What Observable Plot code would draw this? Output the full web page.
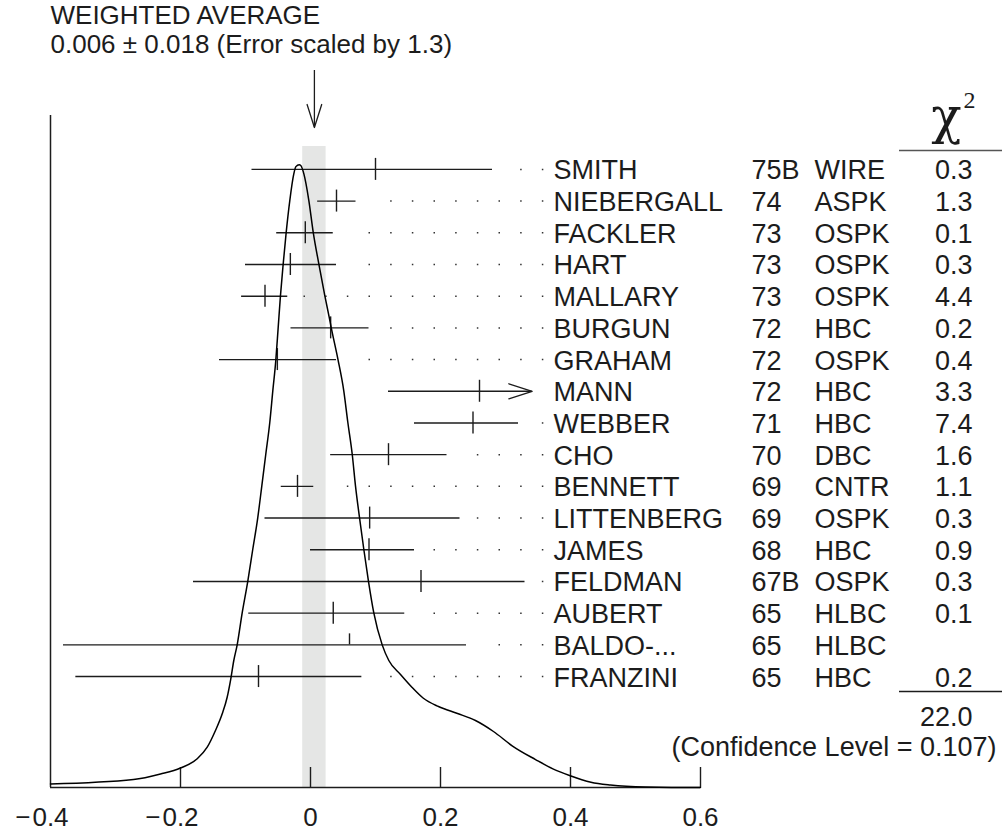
<!DOCTYPE html>
<html>
<head>
<meta charset="utf-8">
<script src="https://cdn.jsdelivr.net/npm/d3@7"></script>
<script src="https://cdn.jsdelivr.net/npm/@observablehq/plot@0.6"></script>
<style>
  html, body { margin: 0; padding: 0; background: #fff; }
  #chart svg { display: block; }
</style>
</head>
<body>
<div id="chart"></div>
<script>
// ---- data ----
const names = ["SMITH","NIEBERGALL","FACKLER","HART","MALLARY","BURGUN","GRAHAM","MANN","WEBBER","CHO","BENNETT","LITTENBERG","JAMES","FELDMAN","AUBERT","BALDO-...","FRANZINI"];
const years = ["75B","74","73","73","73","72","72","72","71","70","69","69","68","67B","65","65","65"];
const detectors = ["WIRE","ASPK","OSPK","OSPK","OSPK","HBC","OSPK","HBC","HBC","DBC","CNTR","OSPK","HBC","OSPK","HLBC","HLBC","HBC"];
const values = [0.10, 0.040, -0.008, -0.031, -0.070, 0.031, -0.051, 0.26, 0.25, 0.12, -0.020, 0.091, 0.09, 0.17, 0.035, 0.06, -0.080];
const lows   = [-0.09, 0.011, -0.052, -0.10, -0.106, -0.030, -0.14, 0.12, 0.16, 0.031, -0.045, -0.07, 0.0, -0.18, -0.095, -0.38, -0.361];
const highs  = [0.28, 0.070, 0.035, 0.04, -0.035, 0.090, 0.04, 0.40, 0.32, 0.21, 0.005, 0.23, 0.16, 0.33, 0.145, 0.24, 0.079];
const chi2   = ["0.3","1.3","0.1","0.3","4.4","0.2","0.4","3.3","7.4","1.6","1.1","0.3","0.9","0.3","0.1","","0.2"];
const chi2Total = "22.0";
const confidenceLevel = 0.107;
const average = 0.006;
const averageError = 0.018;
const errorScale = 1.3;

// ideogram curve (x, height relative to the peak)
const curveX = [-0.4,-0.2723,-0.2308,-0.2,-0.1743,-0.1589,-0.1462,-0.1358,-0.1282,-0.1231,-0.118,-0.1128,-0.1051,-0.0965,-0.0888,-0.0811,-0.0749,-0.0688,-0.0626,-0.058,-0.0534,-0.0497,-0.0462,-0.042,-0.0374,-0.0318,-0.0257,-0.0225,-0.0174,-0.0148,-0.0102,-0.0026,0.0042,0.0128,0.022,0.0288,0.0318,0.0423,0.0512,0.0574,0.0642,0.0692,0.0754,0.082,0.0892,0.0974,0.1103,0.1205,0.1385,0.156,0.1732,0.1969,0.2262,0.2538,0.2815,0.3108,0.3462,0.3729,0.3985,0.4315,0.4615,0.5154,0.5954,0.6];
const curveD = [0.0056,0.0128,0.0217,0.0313,0.0461,0.0647,0.0915,0.1183,0.1449,0.1717,0.2039,0.229,0.2804,0.3311,0.3825,0.4334,0.4843,0.535,0.5864,0.6368,0.6854,0.7388,0.7897,0.8406,0.8913,0.9427,0.9851,0.9968,1.0,0.9984,0.9851,0.9427,0.8913,0.8406,0.7897,0.7549,0.7388,0.687,0.6368,0.5864,0.535,0.4843,0.4334,0.3825,0.3311,0.2804,0.229,0.2039,0.1814,0.161,0.1437,0.13,0.1188,0.1075,0.0899,0.0666,0.0449,0.03,0.0193,0.0085,0.004,0.0008,0,0];

const xTicks = [-0.4, -0.2, 0, 0.2, 0.4, 0.6];

// ---- layout ----
const W = 1003, H = 830;
const mL = 50, mR = 303, mT = 115, mB = 43;
const xDomain = [-0.4, 0.6];
const yTop = 21.2;                       // frame height in row units
const pxY = p => p * yTop / (H - mT - mB);
const pxX = p => p * (xDomain[1] - xDomain[0]) / (W - mL - mR);
const firstRow = 19.5;                   // row position of the first entry
const peakHeight = 19.65;                // ideogram peak height in row units
const barLimit = 0.341;                  // bars are cut (with an arrow) here
const dotStart = -0.01, dotStep = 1 / 30, dotLast = 11, dotGap = 0.0223;

const ink = "#1c1c1c";
const font = "'Liberation Sans', Arial, Helvetica, sans-serif";
const serif = "'DejaVu Serif', 'Liberation Serif', 'Times New Roman', serif";

const rows = names.map((name, i) => ({
  name, year: years[i], det: detectors[i],
  v: values[i], lo: lows[i], hi: highs[i], chi: chi2[i],
  y: firstRow - i
}));

const dots = rows.filter(r => r.hi <= barLimit).map(r => {
  const k = Math.ceil((r.hi + dotGap - dotStart) / dotStep - 1e-9);
  return {y: r.y, x1: dotStart + k * dotStep, x2: dotStart + dotLast * dotStep + 0.003};
}).filter(d => d.x1 < d.x2);

const curve = curveX.map((x, i) => ({x, h: curveD[i] * peakHeight}));

const tickHalf = pxY(11);

// arrowheads (V shapes)
const heads = [];
const yTip = pxY(660), yTail = pxY(717);
heads.push({k: "avg", x: average - pxX(7.3), y: yTip + pxY(23)});
heads.push({k: "avg", x: average, y: yTip});
heads.push({k: "avg", x: average + pxX(7.3), y: yTip + pxY(23)});
rows.filter(r => r.hi > barLimit).forEach(r => {
  heads.push({k: r.name, x: barLimit - pxX(23.3), y: r.y + pxY(7.5)});
  heads.push({k: r.name, x: barLimit, y: r.y});
  heads.push({k: r.name, x: barLimit - pxX(23.3), y: r.y - pxY(7.5)});
});

const header1 = "WEIGHTED AVERAGE";
const header2 = `${average} ± ${averageError} (Error scaled by ${errorScale})`;

const txt = {fontSize: 27, fill: ink, lineAnchor: "bottom"};

const chart = Plot.plot({
  width: W, height: H,
  marginLeft: mL, marginRight: mR, marginTop: mT, marginBottom: mB,
  style: {fontFamily: font, background: "#fff", color: ink},
  x: {domain: xDomain, axis: null},
  y: {domain: [0, yTop], axis: null},
  marks: [
    // weighted average band
    Plot.rect([average], {x1: d => d - averageError, x2: d => d + averageError, insetTop: 31, fill: "#e5e6e5"}),
    // frame: left line, baseline, ticks
    Plot.ruleX([xDomain[0]], {stroke: ink, strokeWidth: 1.5}),
    Plot.ruleY([0], {stroke: ink, strokeWidth: 1.6}),
    Plot.ruleX(xTicks.filter(t => t > xDomain[0]), {insetTop: H - mT - mB - 20, stroke: ink, strokeWidth: 1.4}),
    // tick labels (numbers centred, minus sign hung to the left)
    Plot.text(xTicks, {x: d => d, text: d => String(Math.abs(d)), frameAnchor: "bottom", dy: 38, lineAnchor: "bottom", fontSize: 26, fill: ink}),
    Plot.text(xTicks.filter(d => d < 0), {x: d => d, text: () => "\u2212", frameAnchor: "bottom", dy: 38, dx: -20, textAnchor: "end", lineAnchor: "bottom", fontSize: 26, fill: ink}),
    // dotted leaders
    Plot.ruleY(dots, {y: "y", x1: "x1", x2: "x2", stroke: "#333", strokeWidth: 1.5, strokeDasharray: `1.5 ${(W - mL - mR) * dotStep - 1.5}`}),
    // error bars
    Plot.ruleY(rows, {y: "y", x1: "lo", x2: d => Math.min(d.hi, barLimit), stroke: ink, strokeWidth: 1.4}),
    Plot.ruleX(rows, {x: "v", y1: d => d.chi === "" ? d.y : d.y - tickHalf, y2: d => d.y + tickHalf, stroke: ink, strokeWidth: 1.4}),
    // ideogram
    Plot.line(curve, {x: "x", y: "h", curve: "monotone-x", stroke: "#000", strokeWidth: 1.5}),
    // arrow to the average, and arrowheads
    Plot.ruleX([average], {y1: yTip, y2: yTail, stroke: ink, strokeWidth: 1.3}),
    Plot.line(heads, {x: "x", y: "y", z: "k", stroke: ink, strokeWidth: 1.3}),
    // table columns
    Plot.text(rows, {...txt, y: "y", text: "name", frameAnchor: "left", dx: 503, dy: 10, textAnchor: "start"}),
    Plot.text(rows, {...txt, y: "y", text: "year", frameAnchor: "left", dx: 701, dy: 10, textAnchor: "start"}),
    Plot.text(rows, {...txt, y: "y", text: "det", frameAnchor: "left", dx: 764, dy: 10, textAnchor: "start"}),
    Plot.text(rows, {...txt, y: "y", text: "chi", frameAnchor: "left", dx: 922, dy: 10, textAnchor: "end"}),
    // chi-square header and rules
    Plot.text(["\u03c7"], {text: d => d, frameAnchor: "top-left", dx: 896, dy: 17, textAnchor: "middle", lineAnchor: "bottom", fontFamily: serif, fontSize: 50, fill: ink}),
    Plot.text(["2"], {text: d => d, frameAnchor: "top-left", dx: 913, dy: -8, textAnchor: "start", lineAnchor: "bottom", fontFamily: "'Liberation Serif', serif", fontSize: 24, fill: ink}),
    Plot.ruleY([0], {dy: -637, insetLeft: 849, insetRight: -302, stroke: "#555", strokeWidth: 1.5}),
    Plot.ruleY([0], {dy: -96, insetLeft: 849, insetRight: -302, stroke: ink, strokeWidth: 1.5}),
    Plot.text([chi2Total], {...txt, text: d => d, frameAnchor: "bottom-left", dx: 922, dy: -62, textAnchor: "end"}),
    Plot.text([`(Confidence Level = ${confidenceLevel})`], {...txt, text: d => d, frameAnchor: "bottom-left", dx: 946, dy: -32, textAnchor: "end"}),
    // header
    Plot.text([header1], {...txt, fontSize: 26, text: d => d, frameAnchor: "top-left", dy: -92, textAnchor: "start"}),
    Plot.text([header2], {...txt, fontSize: 26, text: d => d, frameAnchor: "top-left", dy: -62.5, textAnchor: "start"})
  ]
});
document.getElementById("chart").appendChild(chart);
</script>
</body>
</html>
